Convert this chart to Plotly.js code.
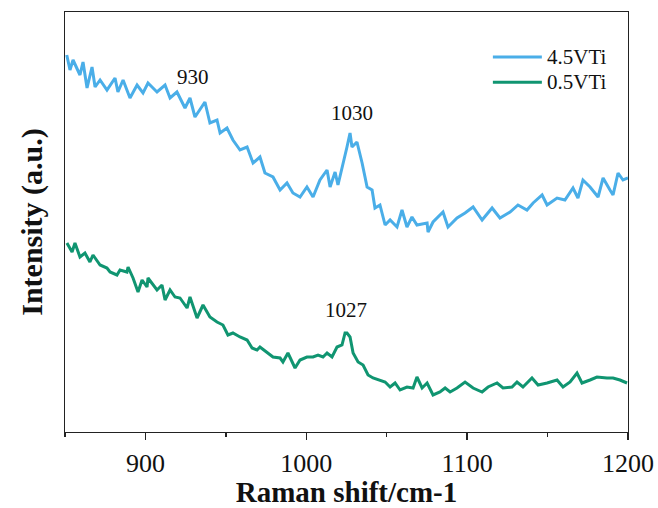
<!DOCTYPE html>
<html>
<head>
<meta charset="utf-8">
<script src="https://cdn.plot.ly/plotly-3.0.1.min.js"></script>
<style>html,body{margin:0;padding:0;background:#fff;}#chart{width:658px;height:508px;}</style>
</head>
<body>
<div id="chart"></div>
<script>
const seriesNames = ["4.5VTi", "0.5VTi"];

const shiftA = [851.1,853.1,855.0,859.3,861.2,863.7,866.8,868.7,871.8,876.1,881.1,882.9,886.1,890.4,894.8,898.5,901.6,907.2,912.2,915.3,919.6,924.6,927.7,930.8,937.0,940.1,944.5,946.4,950.7,954.4,958.8,963.2,966.9,971.2,974.3,979.3,983.7,988.0,991.7,996.1,1000.4,1004.2,1008.5,1012.9,1014.8,1017.9,1019.7,1022.8,1025.3,1027.2,1028.4,1031.5,1034.7,1037.8,1040.9,1042.7,1045.8,1049.0,1052.1,1056.4,1059.5,1062.6,1065.7,1068.8,1075.1,1075.7,1078.8,1085.0,1088.1,1093.7,1098.7,1103.7,1109.3,1115.5,1120.4,1126.7,1131.6,1137.2,1141.0,1146.6,1149.7,1155.9,1160.8,1165.8,1168.9,1172.0,1176.4,1181.4,1184.5,1188.8,1190.7,1193.8,1196.9,1200.0];
const intensityA = [377,362,372,357,370,344,365,345,352,342,354,340,352,334,347,339,349,340,347,334,340,324,334,315,330,309,312,299,304,292,282,285,269,275,259,255,242,249,239,235,245,235,252,262,245,260,247,270,285,299,285,290,269,245,242,224,227,207,212,205,222,205,215,207,209,200,210,220,205,214,219,225,212,224,214,220,227,222,229,237,227,234,232,244,234,252,245,235,254,242,237,259,252,254];

const shiftB = [851.2,854.4,856.2,859.3,862.4,865.5,867.4,871.8,876.1,878.0,882.3,884.2,888.5,889.2,892.3,895.4,897.9,901.0,901.6,907.2,910.3,912.2,915.3,918.4,921.5,925.9,927.7,932.1,935.8,940.1,944.5,948.2,951.3,954.4,958.8,963.2,966.3,969.4,971.2,975.6,979.3,983.7,985.5,988.6,993.0,996.1,1000.4,1004.2,1007.3,1010.4,1012.9,1016.0,1019.1,1022.2,1024.1,1025.3,1027.2,1029.1,1032.2,1035.3,1038.4,1041.5,1045.8,1049.0,1052.1,1055.2,1058.3,1062.6,1066.4,1068.8,1072.0,1075.1,1078.8,1083.1,1086.3,1089.4,1093.7,1098.7,1103.7,1109.3,1113.0,1118.6,1122.3,1127.9,1131.0,1134.7,1140.3,1144.1,1149.7,1155.9,1159.6,1164.0,1168.3,1171.4,1176.4,1180.7,1186.9,1190.7,1195.0,1199.4];
const intensityB = [189,180,189,175,179,170,177,167,164,160,157,162,160,165,154,140,152,145,154,142,147,132,142,135,134,124,135,114,127,115,110,107,97,99,95,92,84,82,85,80,75,74,70,79,64,72,75,75,77,75,79,75,85,87,99,99,95,79,70,67,57,54,52,50,45,49,42,45,44,55,44,49,37,40,44,40,44,50,44,40,45,49,44,45,50,45,54,47,49,52,45,50,59,49,52,55,54,54,52,49];

const peakLabels = ["930", "1030", "1027"];
const peakX = [929.6, 1028.4, 1024.7];
const peakY = [355, 319, 122];

const xTicks = [900, 1000, 1100, 1200];
const colors = ["#4aaee8", "#109571"];
const serif = "Liberation Serif, Times New Roman, serif";

const traces = [
  {x: shiftA, y: intensityA, name: seriesNames[0], type: "scatter", mode: "lines",
   line: {color: colors[0], width: 3}},
  {x: shiftB, y: intensityB, name: seriesNames[1], type: "scatter", mode: "lines",
   line: {color: colors[1], width: 3}}
];

const annotations = peakLabels.map((t, i) => ({
  x: peakX[i], y: peakY[i], text: t, showarrow: false, xref: "x", yref: "y",
  font: {family: serif, size: 21, color: "#111"}
}));

// legend drawn as key lines + labels (paper coordinates)
const legY = [0.893, 0.833];
const shapes = [];
seriesNames.forEach((n, i) => {
  shapes.push({type: "line", xref: "paper", yref: "paper", x0: 0.760, x1: 0.847, y0: legY[i], y1: legY[i],
    line: {color: colors[i], width: 3}});
  annotations.push({xref: "paper", yref: "paper", x: 0.852, y: legY[i], xanchor: "left", yanchor: "middle",
    text: n, showarrow: false, font: {family: serif, size: 21, color: "#111"}});
});

const layout = {
  width: 658, height: 508,
  margin: {l: 65, r: 30, t: 12, b: 76},
  paper_bgcolor: "#fff", plot_bgcolor: "#fff",
  showlegend: false,
  xaxis: {
    range: [850, 1200], tickvals: xTicks, ticktext: xTicks.map(String),
    ticks: "outside", ticklen: 7, tickwidth: 1.3, tickcolor: "#222",
    showline: true, mirror: true, linecolor: "#222", linewidth: 1.4,
    showgrid: false, zeroline: false,
    tickfont: {family: serif, size: 26, color: "#111"},
    minor: {dtick: 50, tick0: 850, ticks: "outside", ticklen: 4, tickwidth: 1.3, tickcolor: "#222", showgrid: false},
    title: {text: "<b>Raman shift/cm-1</b>", standoff: 6, font: {family: serif, size: 29, color: "#111"}}
  },
  yaxis: {
    range: [0, 420], showticklabels: false, ticks: "",
    showline: true, mirror: true, linecolor: "#222", linewidth: 1.4,
    showgrid: false, zeroline: false,
    title: {text: "<b>Intensity (a.u.)</b>", standoff: 12, font: {family: serif, size: 30, color: "#111"}}
  },
  shapes: shapes,
  annotations: annotations
};

Plotly.newPlot("chart", traces, layout, {displayModeBar: false, staticPlot: true});
</script>
</body>
</html>
